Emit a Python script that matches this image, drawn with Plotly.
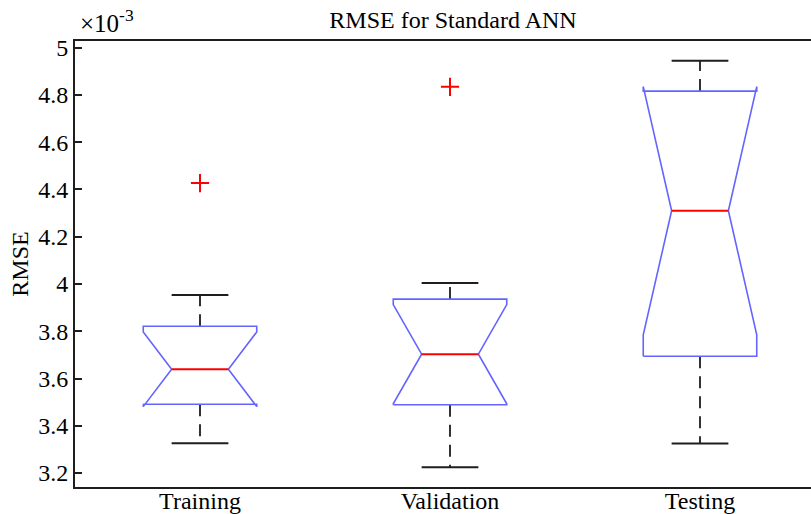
import plotly.graph_objects as go

# values in units of 1e-3
categories = ["Training", "Validation", "Testing"]
q1 = [3.491, 3.489, 3.694]
median = [3.639, 3.703, 4.310]
q3 = [3.821, 3.936, 4.816]
notch_lo = [3.481, 3.493, 3.785]
notch_hi = [3.797, 3.913, 4.835]
whisker_lo = [3.326, 3.225, 3.325]
whisker_hi = [3.953, 4.004, 4.944]
outliers = [[4.427], [4.834], []]
y_ticks = [3.2, 3.4, 3.6, 3.8, 4.0, 4.2, 4.4, 4.6, 4.8, 5.0]
y_tick_text = ["3.2", "3.4", "3.6", "3.8", "4", "4.2", "4.4", "4.6", "4.8", "5"]

W = 0.227   # half box width (axis units)
HW = W / 2  # half notch / cap width

FONT = "Liberation Serif, Times New Roman, serif"
BLUE = "rgb(100,100,255)"
RED = "rgb(255,0,0)"
BLACK = "rgb(30,30,30)"

fig = go.Figure()

for i, cat in enumerate(categories):
    c = i + 1
    # whiskers (dashed)
    fig.add_trace(go.Scatter(
        x=[c, c, None, c, c],
        y=[q3[i], whisker_hi[i], None, q1[i], whisker_lo[i]],
        mode="lines", line=dict(color="rgb(50,50,50)", width=2, dash="12px,8px"),
        hoverinfo="skip", showlegend=False))
    # caps
    fig.add_trace(go.Scatter(
        x=[c - HW, c + HW, None, c - HW, c + HW],
        y=[whisker_hi[i], whisker_hi[i], None, whisker_lo[i], whisker_lo[i]],
        mode="lines", line=dict(color=BLACK, width=2),
        hoverinfo="skip", showlegend=False))
    # notched box outline
    xs = [c - W, c - W, c - HW, c - W, c - W, c + W, c + W, c + HW, c + W, c + W, c - W]
    ys = [q1[i], notch_lo[i], median[i], notch_hi[i], q3[i], q3[i], notch_hi[i],
          median[i], notch_lo[i], q1[i], q1[i]]
    fig.add_trace(go.Scatter(
        x=xs, y=ys, mode="lines", line=dict(color=BLUE, width=1.6),
        hoverinfo="skip", showlegend=False))
    # median
    fig.add_trace(go.Scatter(
        x=[c - HW, c + HW], y=[median[i], median[i]],
        mode="lines", line=dict(color=RED, width=2),
        hoverinfo="skip", showlegend=False))
    # outliers
    if outliers[i]:
        fig.add_trace(go.Scatter(
            x=[c] * len(outliers[i]), y=outliers[i], mode="markers",
            marker=dict(symbol="cross-thin", size=13, line=dict(color=RED, width=2)),
            hoverinfo="skip", showlegend=False))

fig.update_layout(
    width=811, height=514,
    margin=dict(l=75, r=0, t=41, b=27),
    paper_bgcolor="white", plot_bgcolor="white",
    font=dict(family=FONT, size=24, color="black"),
    title=dict(text="RMSE for Standard ANN", x=453 / 811, xanchor="center",
               y=1 - 20 / 514, yanchor="middle", font=dict(size=24)),
    showlegend=False,
)
fig.update_xaxes(
    range=[0.5, 0.5 + 736 / 250], tickvals=[1, 2, 3], ticktext=categories,
    showline=True, mirror=True, linecolor=BLACK, linewidth=2,
    showgrid=False, zeroline=False, ticks="", ticklabelstandoff=-9,
    tickfont=dict(size=24), automargin=False,
)
fig.update_yaxes(
    range=[3.141, 5.028], tickvals=y_ticks, ticktext=y_tick_text,
    showline=True, mirror=False, linecolor=BLACK, linewidth=2,
    showgrid=False, zeroline=False, ticks="inside", ticklen=7, tickwidth=1.5,
    tickcolor=BLACK, tickfont=dict(size=24), automargin=False,
    title=dict(text="RMSE", font=dict(size=24), standoff=3),
)
fig.add_annotation(
    text="×10<sup>-3</sup>", xref="paper", yref="paper",
    x=3 / 736, y=1 + 2 / 446, xanchor="left", yanchor="bottom",
    showarrow=False, font=dict(size=25, family=FONT, color="black"))

fig.write_html("out.html")
